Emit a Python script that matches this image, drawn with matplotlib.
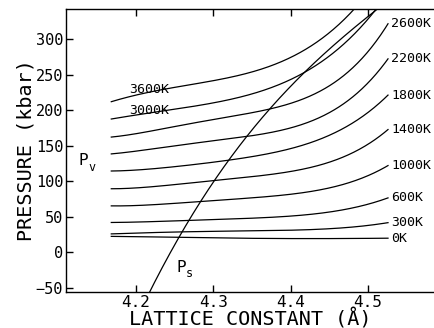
import numpy as np
import matplotlib
matplotlib.use("Agg")
import matplotlib.pyplot as plt

plt.rcParams['font.family'] = ['DejaVu Sans Mono', 'DejaVu Sans']

# ---- data ----
lattice = [4.168, 4.205, 4.300, 4.360, 4.400, 4.445, 4.477, 4.503, 4.526]
temps = ["0K", "300K", "600K", "1000K", "1400K", "1800K", "2200K", "2600K", "3000K", "3600K"]
p_0K    = [22.6, 22.0, 20.6, 19.6, 19.5, 19.5, 19.6, 19.8, 20.0]
p_300K  = [26.0, 27.5, 29.5, 30.5, 31.3, 33.0, 35.5, 38.0, 42.0]
p_600K  = [42.0, 43.0, 46.0, 48.3, 51.5, 56.0, 62.0, 68.0, 77.0]
p_1000K = [65.0, 67.0, 72.0, 77.0, 83.0, 90.0, 98.0, 108.0, 123.0]
p_1400K = [89.0, 92.0, 100.0, 107.0, 115.0, 126.0, 138.0, 152.0, 174.0]
p_1800K = [114.0, 117.0, 126.0, 136.0, 147.0, 163.0, 179.0, 198.0, 222.0]
p_2200K = [138.0, 144.0, 156.0, 165.0, 177.0, 193.0, 216.0, 240.0, 273.0]
p_2600K = [162.0, 168.0, 187.0, 197.0, 211.0, 231.0, 256.0, 285.0, 322.0]
p_3000K = [187.0, 195.0, 209.0, 226.0, 244.0, 273.0, 299.0, 332.0, 365.0]
p_3600K = [212.0, 222.0, 242.0, 256.0, 275.0, 303.0, 337.0, 369.0, 405.0]
pressures = [p_0K, p_300K, p_600K, p_1000K, p_1400K, p_1800K, p_2200K, p_2600K, p_3000K, p_3600K]

ps_lattice = [4.214, 4.257, 4.283, 4.319, 4.344, 4.373, 4.412, 4.500, 4.512]
ps_pressure = [-64.0, 25.0, 71.0, 128.0, 163.0, 201.0, 248.0, 331.0, 342.0]

xticks = [4.2, 4.3, 4.4, 4.5]
yticks = [-50, 0, 50, 100, 150, 200, 250, 300]


def smooth(x, y, xn, deg):
    c = np.polyfit(np.asarray(x) - 4.35, np.asarray(y), deg)
    return np.polyval(c, xn - 4.35)


fig = plt.figure(figsize=(4.35, 3.28), dpi=100)
ax = fig.add_axes([66 / 435, 36 / 328, 1 - 66 / 435, 283 / 328])
ax.set_xlim(4.1094, 4.5868)
ax.set_ylim(-55.6, 342.1)

lw = 0.9
xs = np.linspace(lattice[0], lattice[-1], 300)
for t, p in zip(temps, pressures):
    ys = smooth(lattice, p, xs, 4)
    ax.plot(xs, ys, color='black', lw=lw)
    if t in ("3000K", "3600K"):
        yv = smooth(lattice, p, np.array([4.21]), 4)[0]
        ax.text(4.1905, yv, t, fontsize=9.5, ha='left', va='baseline', color='black')
    else:
        ye = smooth(lattice, p, np.array([lattice[-1]]), 4)[0]
        ax.annotate(t, xy=(lattice[-1], ye), xytext=(3, 0), textcoords='offset pixels',
                    fontsize=9.5, ha='left', va='center', color='black')

xps = np.linspace(ps_lattice[0], ps_lattice[-1], 300)
ax.plot(xps, smooth(ps_lattice, ps_pressure, xps, 3), color='black', lw=lw)

# curve labels
ax.text(4.126, 123, "P", fontsize=11.5, ha='left', va='baseline')
ax.text(4.138, 115, "v", fontsize=8.5, ha='left', va='baseline')
ax.text(4.252, -27, "P", fontsize=11.5, ha='left', va='baseline')
ax.text(4.264, -35, "s", fontsize=8.5, ha='left', va='baseline')

ax.spines['right'].set_visible(False)
for s in ('left', 'top', 'bottom'):
    ax.spines[s].set_linewidth(1.0)
ax.set_xticks(xticks)
ax.set_xticklabels([f"{v:.1f}" for v in xticks])
ax.set_yticks(yticks)
ax.tick_params(axis='both', direction='in', length=5, width=1.0, pad=2)
ax.tick_params(axis='x', top=True, labelsize=11.5)
ax.tick_params(axis='y', labelsize=11)

ax.set_xlabel("LATTICE CONSTANT (Å)", fontsize=14.5, labelpad=-1)
ax.set_ylabel("PRESSURE (kbar)", fontsize=14.5, labelpad=0)

fig.savefig("out.png", dpi=100)
